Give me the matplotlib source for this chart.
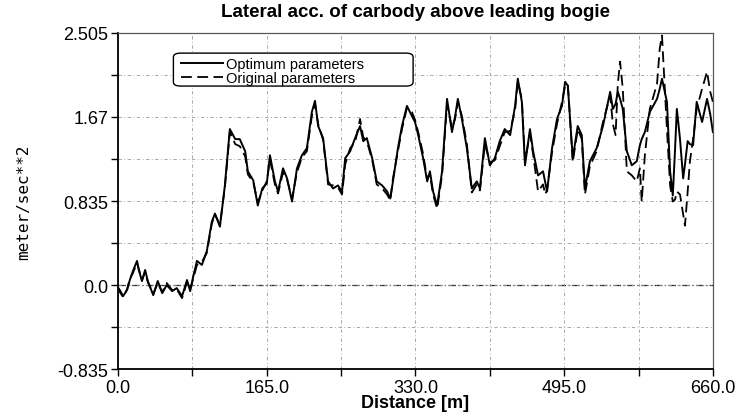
import matplotlib.pyplot as plt
import numpy as np
from matplotlib.patches import FancyBboxPatch

# distance [m] and lateral acceleration [m/s^2]
dist = [0, 2, 5.5, 10, 13, 16.5, 21, 23, 26.5, 30, 33, 39, 44, 49, 54, 60, 65, 71,
        76.5, 80, 83, 87.5, 93, 98.5, 104, 107.5, 113, 118.5, 124, 130, 135, 141,
        144, 150, 155, 160, 165, 168.5, 174, 177.5, 183, 187.5, 193, 198.5, 204,
        209.5, 215, 218.5, 222, 227.5, 233, 238.5, 244, 248.5, 252, 257.5, 263,
        268.5, 272, 276, 282, 287, 293, 298.5, 302, 305, 310.5, 315, 320.5, 326,
        329.5, 333, 338.5, 343, 346, 349.5, 354, 359.5, 365, 370.5, 374, 377,
        381.5, 387, 392.5, 398, 401.5, 407, 412.5, 418, 423.5, 429, 435, 440.5,
        443.5, 448, 451.5, 457, 460.5, 466, 471.5, 474, 476, 481.5, 487, 492.5,
        496, 499, 504.5, 510, 514.5, 518, 523.5, 531, 538, 546, 549, 552, 554.5,
        557, 560, 564.5, 570, 575.5, 579, 581, 584.5, 590, 598, 601, 603.5, 609,
        612.5, 615.5, 618, 620, 623.5, 627, 629, 632, 634.5, 638, 642, 648,
        653.5, 657, 660]

optimum = [-0.03, -0.05, -0.11, -0.05, 0.05, 0.14, 0.24, 0.15, 0.04, 0.15, 0.04,
           -0.10, 0.04, -0.08, 0.00, -0.06, -0.03, -0.11, 0.05, -0.06, 0.07, 0.24,
           0.20, 0.34, 0.63, 0.71, 0.58, 0.99, 1.55, 1.45, 1.45, 1.33, 1.13, 1.04,
           0.79, 0.96, 1.01, 1.29, 1.03, 0.93, 1.16, 1.06, 0.83, 1.16, 1.29, 1.36,
           1.72, 1.83, 1.58, 1.46, 1.03, 0.96, 0.99, 0.93, 1.26, 1.33, 1.46, 1.58,
           1.43, 1.46, 1.26, 1.03, 0.99, 0.93, 0.86, 1.03, 1.36, 1.58, 1.78, 1.68,
           1.62, 1.49, 1.26, 1.03, 1.13, 0.93, 0.79, 1.13, 1.85, 1.52, 1.68, 1.85,
           1.65, 1.36, 0.96, 1.03, 0.96, 1.46, 1.19, 1.26, 1.43, 1.55, 1.49, 1.78,
           2.05, 1.82, 1.19, 1.55, 1.33, 1.09, 1.13, 1.02, 0.93, 1.36, 1.65, 1.78,
           2.02, 1.98, 1.26, 1.58, 1.49, 0.96, 1.23, 1.36, 1.58, 1.92, 1.75, 1.80,
           1.92, 1.85, 1.75, 1.33, 1.19, 1.23, 1.39, 1.45, 1.52, 1.72, 1.85, 1.95,
           2.05, 1.82, 1.13, 0.89, 1.35, 1.75, 1.45, 1.06, 1.20, 1.43, 1.40, 1.39,
           1.82, 1.62, 1.85, 1.70, 1.52]

original = [-0.02, -0.07, -0.12, -0.04, 0.06, 0.12, 0.22, 0.16, 0.05, 0.13, 0.03,
            -0.09, 0.02, -0.07, 0.02, -0.05, -0.04, -0.13, 0.03, -0.04, 0.05, 0.20,
            0.23, 0.32, 0.61, 0.70, 0.60, 0.97, 1.52, 1.40, 1.38, 1.28, 1.10, 1.02,
            0.82, 0.94, 1.03, 1.25, 1.00, 0.91, 1.12, 1.05, 0.86, 1.12, 1.27, 1.33,
            1.68, 1.80, 1.60, 1.44, 1.00, 0.99, 0.97, 0.90, 1.20, 1.36, 1.42, 1.65,
            1.47, 1.43, 1.24, 1.00, 0.96, 0.90, 0.84, 1.06, 1.33, 1.55, 1.76, 1.72,
            1.64, 1.52, 1.30, 1.05, 1.10, 0.90, 0.76, 1.09, 1.80, 1.56, 1.65, 1.82,
            1.68, 1.40, 0.92, 1.00, 0.94, 1.40, 1.22, 1.24, 1.38, 1.52, 1.53, 1.74,
            2.02, 1.85, 1.24, 1.50, 1.30, 0.93, 1.00, 0.90, 0.95, 1.32, 1.60, 1.82,
            1.98, 2.00, 1.22, 1.55, 1.45, 0.90, 1.18, 1.33, 1.62, 1.88, 1.60, 1.49,
            2.00, 2.22, 1.95, 1.13, 1.09, 1.03, 1.16, 0.83, 1.29, 1.75, 2.00, 2.35,
            2.48, 1.55, 0.99, 0.83, 0.85, 0.93, 0.90, 0.70, 0.59, 0.93, 1.23, 1.45,
            1.75, 1.95, 2.12, 1.92, 1.82]

x_ticks = [0, 165, 330, 495, 660]
x_labels = ["0.0", "165.0", "330.0", "495.0", "660.0"]
y_ticks = [-0.835, 0.0, 0.835, 1.67, 2.505]
y_labels = ["-0.835", "0.0", "0.835", "1.67", "2.505"]

plt.rcParams["font.family"] = ["Liberation Sans", "DejaVu Sans"]

fig = plt.figure(figsize=(7.38, 4.14), dpi=100)
ax = fig.add_axes([0.160, 0.106, 0.806, 0.812])

ax.plot(dist, original, color="black", lw=1.3, ls=(0, (6, 3)),
        label="Original parameters")
ax.plot(dist, optimum, color="black", lw=1.4, label="Optimum parameters")
ax.axhline(0, color="0.15", lw=0.9, ls=(0, (6, 2, 1, 2)), zorder=1)

ax.set_xlim(0, 660)
ax.set_ylim(-0.835, 2.505)
ax.set_xticks(x_ticks, labels=x_labels)
ax.set_yticks(y_ticks, labels=y_labels)
ax.set_xticks(np.arange(82.5, 660, 165), minor=True)
ax.set_yticks(np.arange(-0.4175, 2.505, 0.835), minor=True)
ax.tick_params(which="both", direction="out", length=5, width=1,
               labelsize=13, pad=2)
ax.grid(which="both", color="0.6", lw=0.6, ls=(0, (4, 3, 1, 3)))

for side in ["left", "bottom"]:
    ax.spines[side].set_linewidth(1.3)
for side in ["top", "right"]:
    ax.spines[side].set_linewidth(0.9)
    ax.spines[side].set_color("0.35")

ax.set_title("Lateral acc. of carbody above leading bogie",
             fontsize=13.5, fontweight="bold", pad=12)
ax.set_xlabel("Distance [m]", fontsize=13, fontweight="bold", labelpad=-1)
ax.set_ylabel("meter/sec**2", fontsize=11.5, family="DejaVu Sans Mono",
              labelpad=19)

# legend box is wider than its text in the original
box = FancyBboxPatch((0.093, 0.842), 0.403, 0.098,
                     boxstyle="round,pad=0,rounding_size=0.012",
                     transform=ax.transAxes, facecolor="white",
                     edgecolor="black", lw=1.0, zorder=4)
ax.add_patch(box)
handles, labels = ax.get_legend_handles_labels()
leg = ax.legend(handles[::-1], labels[::-1], loc="upper left",
                bbox_to_anchor=(0.105, 0.927), fontsize=10.5, frameon=False,
                handlelength=2.9, handletextpad=0.2, borderpad=0,
                labelspacing=0.0, borderaxespad=0)
leg.set_zorder(5)

plt.savefig("out.png", dpi=100)
